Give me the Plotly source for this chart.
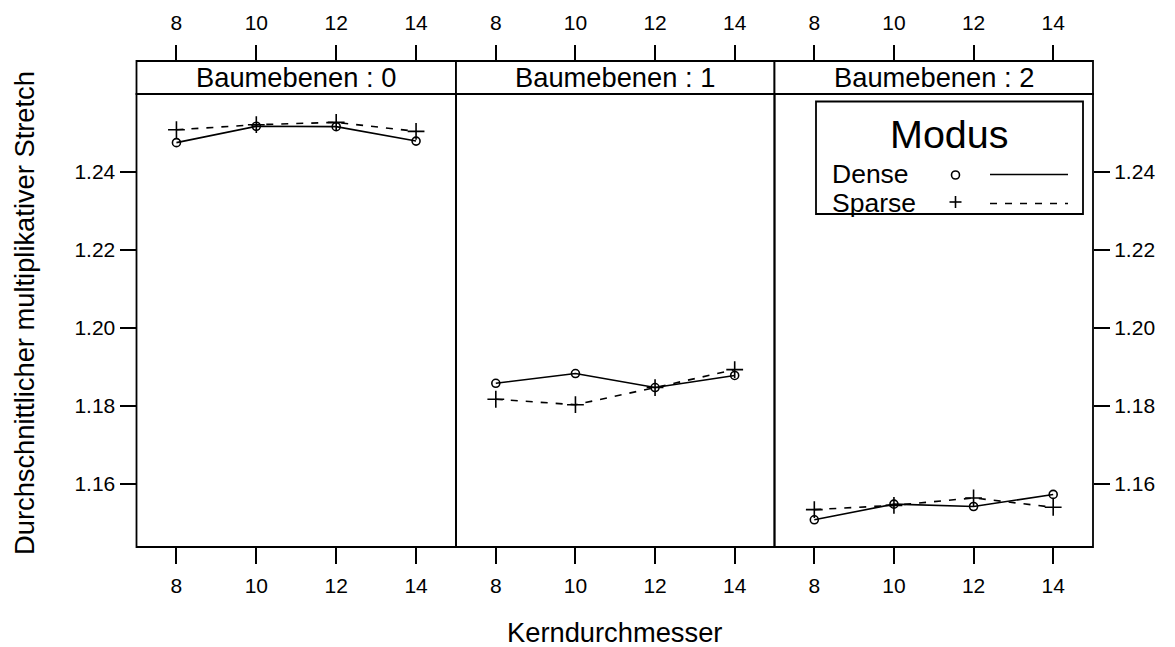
import plotly.graph_objects as go

# ---- data -------------------------------------------------------------
kern = [8, 10, 12, 14]
ebenen = ["0", "1", "2"]

dense = [
    [1.2474, 1.2516, 1.2515, 1.2478],
    [1.1857, 1.1882, 1.1846, 1.1877],
    [1.1507, 1.1547, 1.1541, 1.1572],
]
sparse = [
    [1.2507, 1.2520, 1.2526, 1.2503],
    [1.1816, 1.1802, 1.1846, 1.1892],
    [1.1533, 1.1544, 1.1563, 1.1539],
]

y_ticks = [1.16, 1.18, 1.20, 1.22, 1.24]
x_ticks = [8, 10, 12, 14]

# ---- layout helpers ---------------------------------------------------
W, H = 1175, 647
FONT = "Liberation Sans, Arial, Helvetica, sans-serif"
TXT = 27.3


def px(x):
    return x / W


def py(y):
    return 1 - y / H


LW = 1.8
border = [136.5, 456, 774.5, 1093]          # panel edges
plot_top, plot_bottom, strip_top = 94, 547, 61
x_range = [7, 15]
y_range = [1.16 - (plot_bottom - 483.5) / 3900, 1.24 + (171.5 - plot_top) / 3900]
DASH = "7px,8px"

tick_font = dict(family=FONT, size=21, color="black")

fig = go.Figure()

for i in range(3):
    xa = "x" if i == 0 else f"x{i + 1}"
    fig.add_trace(go.Scatter(
        x=kern, y=dense[i], xaxis=xa, yaxis="y", mode="lines+markers",
        line=dict(color="black", width=1.6),
        marker=dict(symbol="circle-open", size=8, color="black", line=dict(width=1.6)),
        showlegend=False, name="Dense",
    ))
    fig.add_trace(go.Scatter(
        x=kern, y=sparse[i], xaxis=xa, yaxis="y", mode="lines+markers",
        line=dict(color="black", width=1.6, dash=DASH),
        marker=dict(symbol="cross-thin-open", size=12, color="black", line=dict(width=1.6)),
        showlegend=False, name="Sparse",
    ))

# empty traces so the top and right tick axes get their own subplots
for xa, ya in [("x4", "y"), ("x5", "y"), ("x6", "y"), ("x3", "y2")]:
    fig.add_trace(go.Scatter(x=[], y=[], xaxis=xa, yaxis=ya, showlegend=False,
                             hoverinfo="skip", mode="lines"))

layout = dict(
    width=W, height=H, autosize=False,
    margin=dict(l=0, r=0, t=0, b=0),
    paper_bgcolor="white", plot_bgcolor="rgba(0,0,0,0)",
    font=dict(family=FONT, color="black"),
    showlegend=False,
)

common_x = dict(
    range=x_range, tickmode="array", tickvals=x_ticks, ticktext=[str(v) for v in x_ticks],
    ticks="outside", ticklen=16, tickwidth=LW, tickcolor="black",
    showgrid=False, zeroline=False, showline=False, tickfont=tick_font,
)

y_dom = [py(plot_bottom), py(plot_top)]

for i in range(3):
    dom = [px(border[i]), px(border[i + 1])]
    key = "xaxis" if i == 0 else f"xaxis{i + 1}"
    layout[key] = dict(
        common_x, domain=dom, anchor="y", side="bottom", ticklabelstandoff=4,
    )
    # tick marks above the strip
    layout[f"xaxis{i + 4}"] = dict(
        common_x, domain=dom, anchor="free", position=py(strip_top),
        overlaying="x" if i == 0 else f"x{i + 1}", side="top", ticklabelstandoff=7,
    )

common_y = dict(
    domain=y_dom, range=y_range,
    tickmode="array", tickvals=y_ticks, ticktext=[f"{v:.2f}" for v in y_ticks],
    ticks="outside", ticklen=16, tickwidth=LW, tickcolor="black",
    showgrid=False, zeroline=False, showline=False, tickfont=tick_font,
)
layout["yaxis"] = dict(common_y, anchor="x", side="left")
# right-hand tick axis of the last panel
layout["yaxis2"] = dict(common_y, anchor="x3", side="right", matches="y")

shapes = []
annotations = []

# panel frames and strips
for i in range(3):
    shapes.append(dict(
        type="rect", xref="paper", yref="paper",
        x0=px(border[i]), x1=px(border[i + 1]),
        y0=py(plot_bottom), y1=py(plot_top),
        line=dict(color="black", width=LW), fillcolor="rgba(0,0,0,0)", layer="above",
    ))
    shapes.append(dict(
        type="rect", xref="paper", yref="paper",
        x0=px(border[i]), x1=px(border[i + 1]),
        y0=py(plot_top), y1=py(strip_top),
        line=dict(color="black", width=LW), fillcolor="white", layer="above",
    ))
    annotations.append(dict(
        xref="paper", yref="paper",
        x=px((border[i] + border[i + 1]) / 2), y=py((plot_top + strip_top) / 2),
        text=f"Baumebenen : {ebenen[i]}", showarrow=False,
        xanchor="center", yanchor="middle",
        font=dict(family=FONT, size=TXT, color="black"),
    ))

# axis titles
annotations.append(dict(
    xref="paper", yref="paper", x=px(614.75), y=py(632),
    text="Kerndurchmesser", showarrow=False, xanchor="center", yanchor="middle",
    font=dict(family=FONT, size=TXT, color="black"),
))
annotations.append(dict(
    xref="paper", yref="paper", x=px(24), y=py(313),
    text="Durchschnittlicher multiplikativer Stretch", showarrow=False,
    textangle=-90, xanchor="center", yanchor="middle",
    font=dict(family=FONT, size=TXT, color="black"),
))

# key inside the third panel
shapes.append(dict(
    type="rect", xref="paper", yref="paper",
    x0=px(816), x1=px(1083), y0=py(214), y1=py(101.5),
    line=dict(color="black", width=LW), fillcolor="white", layer="above",
))
annotations.append(dict(
    xref="paper", yref="paper", x=px(950), y=py(134),
    text="Modus", showarrow=False, xanchor="center", yanchor="middle",
    font=dict(family=FONT, size=39.5, color="black"),
))
key_rows = [("Dense", 173.5, "solid"), ("Sparse", 202.5, DASH)]
for label, yy, dash in key_rows:
    annotations.append(dict(
        xref="paper", yref="paper", x=px(830), y=py(yy),
        text=label, showarrow=False, xanchor="left", yanchor="middle",
        font=dict(family=FONT, size=26.5, color="black"),
    ))
    shapes.append(dict(
        type="line", xref="paper", yref="paper",
        x0=px(990), x1=px(1068), y0=py(yy + 1), y1=py(yy + 1),
        line=dict(color="black", width=1.6, dash=dash),
        layer="above",
    ))
# key symbols: open circle and plus
shapes.append(dict(
    type="circle", xref="paper", yref="paper",
    x0=px(951.5), x1=px(959.5), y0=py(179), y1=py(171),
    line=dict(color="black", width=1.6), layer="above",
))
shapes.append(dict(
    type="line", xref="paper", yref="paper",
    x0=px(949.5), x1=px(961.5), y0=py(202), y1=py(202),
    line=dict(color="black", width=1.6), layer="above",
))
shapes.append(dict(
    type="line", xref="paper", yref="paper",
    x0=px(955.5), x1=px(955.5), y0=py(196), y1=py(208),
    line=dict(color="black", width=1.6), layer="above",
))

layout["shapes"] = shapes
layout["annotations"] = annotations
fig.update_layout(layout)

fig.write_html("out.html")
